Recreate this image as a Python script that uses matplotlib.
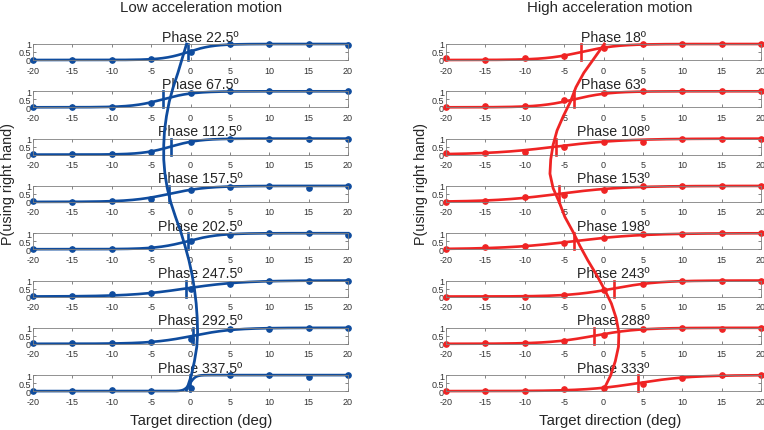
import numpy as np
import matplotlib
matplotlib.use('Agg')
import matplotlib.pyplot as plt

plt.rcParams['font.family'] = ['Liberation Sans', 'DejaVu Sans']
plt.rcParams['axes.unicode_minus'] = False

# target directions (deg) tested in every phase
targets = [-20, -15, -10, -5, 0, 5, 10, 15, 20]

# low acceleration motion
low_phases = ['22.5', '67.5', '112.5', '157.5', '202.5', '247.5', '292.5', '337.5']
low_p = [
    [0.02, 0.02, 0.02, 0.05, 0.49, 1.00, 1.00, 1.00, 0.95],
    [0.00, 0.00, 0.00, 0.30, 0.87, 1.00, 1.00, 1.00, 1.00],
    [0.02, 0.05, 0.02, 0.19, 0.79, 1.00, 1.00, 1.00, 1.00],
    [0.05, 0.02, 0.05, 0.21, 0.74, 0.91, 1.00, 0.89, 0.98],
    [0.02, 0.02, 0.02, 0.10, 0.51, 0.91, 1.00, 1.00, 0.90],
    [0.02, 0.03, 0.15, 0.19, 0.47, 0.81, 1.00, 1.00, 1.00],
    [0.02, 0.02, 0.02, 0.13, 0.32, 0.94, 0.91, 0.98, 0.98],
    [0.00, 0.00, 0.05, 0.00, 0.20, 0.98, 0.98, 0.89, 1.00],
]
low_pse = [-0.3, -3.5, -2.5, -2.7, -0.35, -0.6, 0.3, -0.05]
low_slope = [1.6, 1.9, 1.8, 2.4, 2.0, 3.5, 2.6, 0.35]

# high acceleration motion
high_phases = ['18', '63', '108', '153', '198', '243', '288', '333']
high_p = [
    [0.10, 0.03, 0.15, 0.23, 0.75, 1.00, 1.00, 1.00, 1.00],
    [0.02, 0.10, 0.10, 0.43, 0.90, 1.00, 1.00, 1.00, 1.00],
    [0.08, 0.08, 0.19, 0.50, 0.79, 0.79, 1.00, 1.00, 1.00],
    [0.02, 0.06, 0.32, 0.43, 0.74, 0.98, 1.00, 1.00, 1.00],
    [0.02, 0.11, 0.17, 0.36, 0.68, 0.94, 0.94, 1.00, 1.00],
    [0.00, 0.00, 0.00, 0.09, 0.43, 0.81, 1.00, 1.00, 0.96],
    [0.00, 0.03, 0.02, 0.19, 0.53, 0.94, 1.00, 0.94, 1.00],
    [0.00, 0.02, 0.02, 0.13, 0.20, 0.45, 0.80, 1.00, 1.00],
]
high_pse = [-2.8, -3.7, -6.0, -5.7, -3.8, 1.3, -1.2, 4.4]
high_slope = [2.3, 2.2, 4.2, 4.0, 4.3, 2.8, 2.8, 3.3]

# PSE across the motion cycle (deg), read every 15 deg of phase
cycle_phase = [0, 15, 30, 45, 60, 75, 90, 105, 120, 135, 150, 165, 180,
               195, 210, 225, 240, 255, 270, 285, 300, 315, 330, 345, 360]
low_cycle = [-0.5, -1.05, -1.6, -2.2, -2.7, -3.05, -3.3, -3.4, -3.4, -3.25,
             -2.95, -2.5, -1.9, -1.25, -0.7, -0.2, 0.2, 0.5, 0.72, 0.85,
             0.9, 0.8, 0.5, 0.1, -0.5]
high_cycle = [0.1, -1.2, -2.5, -3.5, -4.2, -5.1, -5.9, -6.4, -6.7, -6.8,
              -6.4, -5.6, -4.9, -3.9, -3.0, -2.0, -0.9, 0.1, 1.0, 1.6,
              1.95, 1.9, 1.5, 0.9, 0.0]

BLUE = '#0f4c9e'
RED = '#ef2424'

W, H = 764, 431
fig = plt.figure(figsize=(W / 100, H / 100), dpi=100)


def px_axes(left, top, width, height):
    return fig.add_axes([left / W, 1 - (top + height) / H, width / W, height / H])


def draw_column(left, color, phases, p, pse, slope, cycle, title, cx):
    xs = np.linspace(-20, 20, 400)
    for k in range(len(phases)):
        ax = px_axes(left, 45 + k * 47.3, 315, 16)
        fit = 1 / (1 + np.exp(-(xs - pse[k]) / slope[k]))
        ax.plot(xs, fit, color=color, lw=1.9, clip_on=False)
        ax.plot(targets, p[k], 'o', color=color, ms=3.8, clip_on=False)
        ax.plot([pse[k], pse[k]], [0, 1], color=color, lw=1.9, clip_on=False)
        ax.set_xlim(-20, 20)
        ax.set_ylim(0, 1)
        ax.set_xticks(targets)
        ax.set_yticks([0, 0.5, 1])
        ax.set_yticklabels(['0', '0.5', '1'])
        ax.tick_params(direction='in', length=2, width=0.5, top=True, right=True,
                       labelsize=6.5, colors='#555555', labelcolor='#333333')
        ax.tick_params(axis='x', pad=4)
        ax.tick_params(axis='y', pad=1.5)
        for s in ax.spines.values():
            s.set_color('#808080')
            s.set_linewidth(0.6)
        ax.set_title('Phase ' + phases[k] + 'º', fontsize=10.2, pad=2.5,
                     x=0.53, color='#262626')

    over = px_axes(left, 45, 315, 346)
    over.plot(cycle, cycle_phase, color=color, lw=2.0, clip_on=False)
    over.set_xlim(-20, 20)
    over.set_ylim(360, 0)
    over.axis('off')

    fig.text(cx / W, 1 - 8 / H, title, ha='center', va='center', fontsize=10.8,
             color='#262626')
    fig.text(cx / W, 1 - 421 / H, 'Target direction (deg)', ha='center',
             va='center', fontsize=10.8, color='#262626')
    fig.text((left - 25) / W, 1 - 184 / H, 'P(using right hand)', rotation=90,
             ha='center', va='center', fontsize=10.4, color='#262626')


draw_column(33, BLUE, low_phases, low_p, low_pse, low_slope, low_cycle,
            'Low acceleration motion', 201)
draw_column(446, RED, high_phases, high_p, high_pse, high_slope, high_cycle,
            'High acceleration motion', 610)

plt.savefig('out.png', dpi=100)
